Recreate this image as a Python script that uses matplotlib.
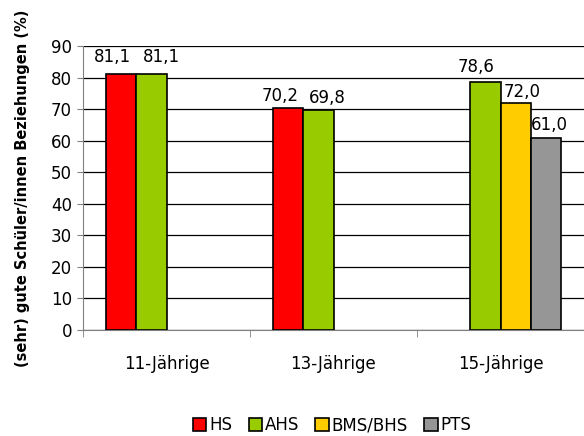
import matplotlib.pyplot as plt
import numpy as np

plt.rcParams['font.family'] = ['DejaVu Sans']

groups = ['11-Jährige', '13-Jährige', '15-Jährige']
series = ['HS', 'AHS', 'BMS/BHS', 'PTS']
hs = [81.1, 70.2, np.nan]
ahs = [81.1, 69.8, 78.6]
bms = [np.nan, np.nan, 72.0]
pts = [np.nan, np.nan, 61.0]
colors = ['#FF0000', '#99CC00', '#FFCC00', '#969696']

# label nudges in pixels (dx, dy) per series and group, like Excel places them
nudges = [
    [(-8, 12), (-8, 7), (0, 8)],
    [(10, 12), (9, 7), (-9, 10)],
    [(0, 8), (0, 8), (6, 6)],
    [(0, 8), (0, 8), (3, 8)],
]

fig = plt.figure(figsize=(5.84, 4.36), dpi=100)
ax = fig.add_axes([83 / 584, 1 - 330 / 436, 1 - 83 / 584, (330 - 46) / 436])

x = np.arange(len(groups))
w = 0.182
for i, (name, vals) in enumerate(zip(series, [hs, ahs, bms, pts])):
    pos = x + (i - 1.5) * w
    ax.bar(pos, vals, width=w, color=colors[i], edgecolor='black', linewidth=1.2,
           label=name, zorder=3)
    for j, (p, v) in enumerate(zip(pos, vals)):
        if not np.isnan(v):
            ax.annotate(f'{v:.1f}'.replace('.', ','), (p, v), xytext=nudges[i][j],
                        textcoords='offset pixels', ha='center', va='baseline',
                        fontsize=12)

ax.set_xlim(-0.5, 2.5)
ax.set_ylim(0, 90)
ax.set_yticks(range(0, 91, 10))
ax.yaxis.grid(True, color='black', linewidth=0.9, zorder=0)
ax.set_axisbelow(True)
ax.set_xticks(x)
ax.set_xticklabels(groups, fontsize=12)
ax.set_xticks([-0.5, 0.5, 1.5, 2.5], minor=True)
ax.tick_params(axis='x', which='major', length=0, pad=18)
ax.tick_params(axis='x', which='minor', length=5, color='#808080')
ax.tick_params(axis='y', length=4, color='#808080', labelsize=12, pad=4)
for s in ['top', 'right']:
    ax.spines[s].set_visible(False)
ax.spines['left'].set_color('#808080')
ax.spines['bottom'].set_color('#808080')

ax.set_ylabel('(sehr) gute Schüler/innen Beziehungen (%)', fontsize=10.5,
              fontweight='bold', labelpad=15)

fig.legend(loc='center', bbox_to_anchor=(332 / 584, 1 - 425 / 436), ncol=4, frameon=False,
           handlelength=0.8, handleheight=0.8, handletextpad=0.15, columnspacing=1.0,
           fontsize=12)

fig.savefig('out.png', dpi=100)
